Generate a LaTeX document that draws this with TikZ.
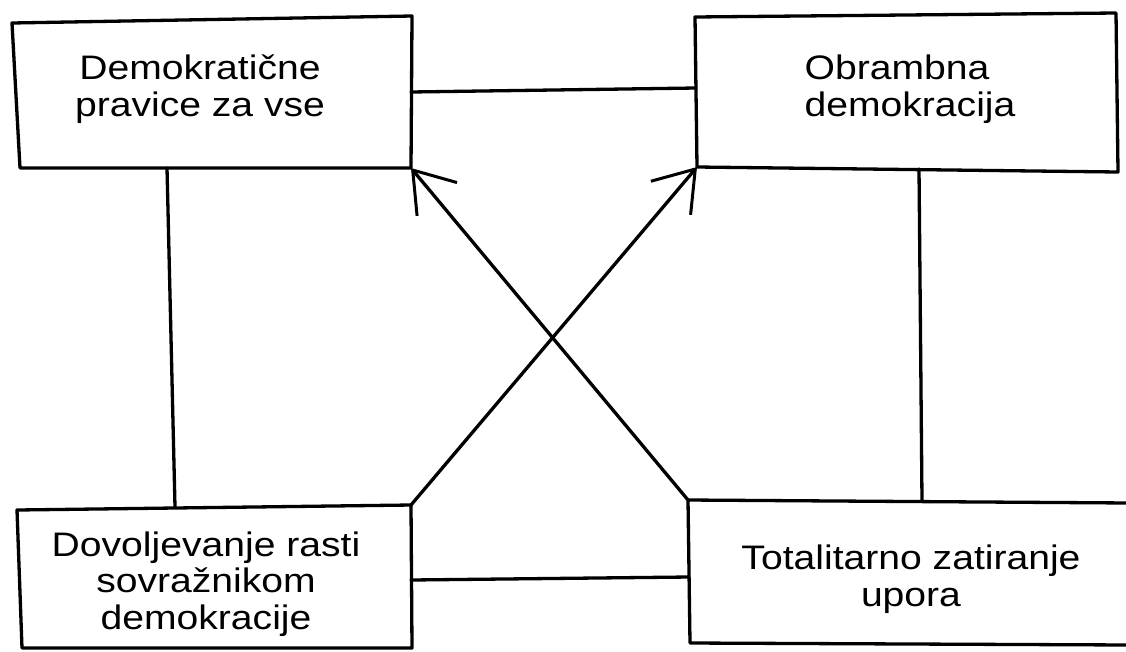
\documentclass[tikz,border=0pt]{standalone}
\usepackage{fontspec}
\setmainfont{Liberation Sans}[FakeStretch=1.15]
\usetikzlibrary{arrows.meta}
\begin{document}
\begin{tikzpicture}[x=1pt,y=-1pt,
  ink/.style={line width=3.3pt, line cap=round, line join=round, black},
  txt/.style={font=\fontsize{34}{36.5}\selectfont, inner sep=0pt, align=center},
  arrowink/.style={ink, -{Straight Barb[length=38pt,width=52pt,line width=3pt]}}]
\fill[white] (0,0) rectangle (1126,651);
\useasboundingbox (0,0) rectangle (1126,651);

% text nodes
\node[txt] (tl) at (200,89) {Demokratične\\pravice za vse};
\node[txt, align=left] (tr) at (910,89) {Obrambna\\demokracija};
\node[txt] (bl) at (206,584) {Dovoljevanje rasti\\sovražnikom\\demokracije};
\node[txt] (br) at (911,579) {Totalitarno zatiranje\\upora};

% box corners
\coordinate (tl-nw) at (12,23);  \coordinate (tl-ne) at (412,16);
\coordinate (tl-se) at (411,168); \coordinate (tl-sw) at (20,168);
\coordinate (tr-nw) at (695,17); \coordinate (tr-ne) at (1116,13);
\coordinate (tr-se) at (1118,172); \coordinate (tr-sw) at (697,167);
\coordinate (bl-nw) at (17,510); \coordinate (bl-ne) at (411,505);
\coordinate (bl-se) at (412,648); \coordinate (bl-sw) at (22,648);
\coordinate (br-nw) at (688,500); \coordinate (br-ne) at (1130,503);
\coordinate (br-se) at (1130,645); \coordinate (br-sw) at (690,643);

% boxes
\draw[ink] (tl-nw) -- (tl-ne) -- (tl-se) -- (tl-sw) -- cycle;
\draw[ink] (tr-nw) -- (tr-ne) -- (tr-se) -- (tr-sw) -- cycle;
\draw[ink] (bl-nw) -- (bl-ne) -- (bl-se) -- (bl-sw) -- cycle;
\draw[ink] (br-ne) -- (br-nw) -- (br-sw) -- (br-se);

% connector ends
\coordinate (tl-r) at (411,92);  \coordinate (tr-l) at (696,88);
\coordinate (tl-b) at (167,168); \coordinate (bl-t) at (175,507);
\coordinate (tr-b) at (919,169); \coordinate (br-t) at (922,501);
\coordinate (bl-r) at (411,580); \coordinate (br-l) at (689,577);

% connectors
\draw[ink] (tl-r) -- (tr-l);
\draw[ink] (tl-b) -- (bl-t);
\draw[ink] (tr-b) -- (br-t);
\draw[ink] (bl-r) -- (br-l);
\draw[arrowink] (br-nw) -- (tl-se);
\draw[arrowink] (bl-ne) -- (tr-sw);
\end{tikzpicture}
\end{document}
